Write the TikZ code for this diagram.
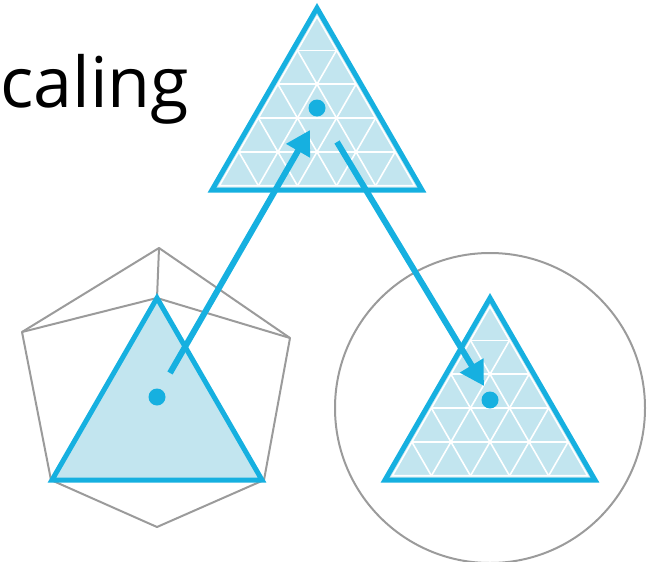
\documentclass[tikz,border=0pt]{standalone}
\usepackage{fontspec}
\setmainfont{Open Sans}
\usetikzlibrary{arrows.meta, calc}

\definecolor{skyblue}{RGB}{22,176,224}
\definecolor{paleblue}{RGB}{194,229,239}
\definecolor{hullgray}{RGB}{155,155,155}

% white triangular mesh inside a triangle (apex, left, right)
\newcommand{\meshgrid}[3]{%
  \foreach \k in {0.2,0.4,0.6,0.8} {
    \draw[mesh] ($(#1)!\k!(#2)$) -- ($(#1)!\k!(#3)$);
    \draw[mesh] ($(#2)!\k!(#1)$) -- ($(#2)!\k!(#3)$);
    \draw[mesh] ($(#3)!\k!(#1)$) -- ($(#3)!\k!(#2)$);
  }
  \draw[mesh] (#1) -- (#2) -- (#3) -- cycle;}

\begin{document}
\begin{tikzpicture}[
  x=1pt, y=-1pt,
  tri/.style={draw=skyblue, line width=5pt, line join=miter, fill=paleblue},
  mesh/.style={draw=white, line width=1.6pt},
  hull/.style={draw=hullgray, line width=2pt, line join=round},
  dot/.style={circle, fill=skyblue, inner sep=0pt, minimum size=17pt},
  arrow/.style={-{Triangle[length=24pt, width=26pt]}, draw=skyblue,
                line width=6pt, fill=skyblue},
]
\useasboundingbox (0,0) rectangle (656,562);

% Title
\node[anchor=base west, inner sep=0pt, font=\fontsize{70}{70}\selectfont] (title) at (0,107) {caling};

% Left: hull around solid triangle
\coordinate (hT) at (159,248);
\coordinate (hUL) at (22,332);
\coordinate (hUR) at (290,338);
\coordinate (hLR) at (264,480);
\coordinate (hB) at (157,527);
\coordinate (hLL) at (51,480);
\coordinate (la) at (157,298);
\coordinate (ll) at (52,480);
\coordinate (lr) at (262,480);
\draw[hull] (hT) -- (hUR) -- (hLR) -- (hB) -- (hLL) -- (hUL) -- cycle;
\draw[hull] (hUL) -- (la) -- (hUR);
\draw[hull] (hT) -- (la);
\draw[tri] (la) -- (ll) -- (lr) -- cycle;
\node[dot] (leftdot) at (157,397) {};

% Top: meshed triangle
\coordinate (ta) at (317,8);
\coordinate (tl) at (212,190);
\coordinate (tr) at (422,190);
\coordinate (tc) at (317,129.3);
\coordinate (tia) at ($(tc)!0.93!(ta)$);
\coordinate (til) at ($(tc)!0.93!(tl)$);
\coordinate (tir) at ($(tc)!0.93!(tr)$);
\fill[paleblue] (ta) -- (tl) -- (tr) -- cycle;
\meshgrid{tia}{til}{tir}
\draw[tri, fill=none] (ta) -- (tl) -- (tr) -- cycle;
\node[dot] (topdot) at (317,108) {};

% Right: meshed triangle in circle
\draw[hull] (490,408) circle[radius=155];
\coordinate (ra) at (490,298);
\coordinate (rl) at (385,480);
\coordinate (rr) at (595,480);
\coordinate (rc) at (490,419.3);
\coordinate (ria) at ($(rc)!0.93!(ra)$);
\coordinate (ril) at ($(rc)!0.93!(rl)$);
\coordinate (rir) at ($(rc)!0.93!(rr)$);
\fill[paleblue] (ra) -- (rl) -- (rr) -- cycle;
\meshgrid{ria}{ril}{rir}
\draw[tri, fill=none] (ra) -- (rl) -- (rr) -- cycle;
\node[dot] (rightdot) at (490,400) {};

% Arrows
\coordinate (uptail) at (170,373);
\coordinate (uptip) at (310,130);
\coordinate (downtail) at (337,142);
\coordinate (downtip) at (484,386);
\draw[arrow] (uptail) -- (uptip);
\draw[arrow] (downtail) -- (downtip);
\end{tikzpicture}
\end{document}
